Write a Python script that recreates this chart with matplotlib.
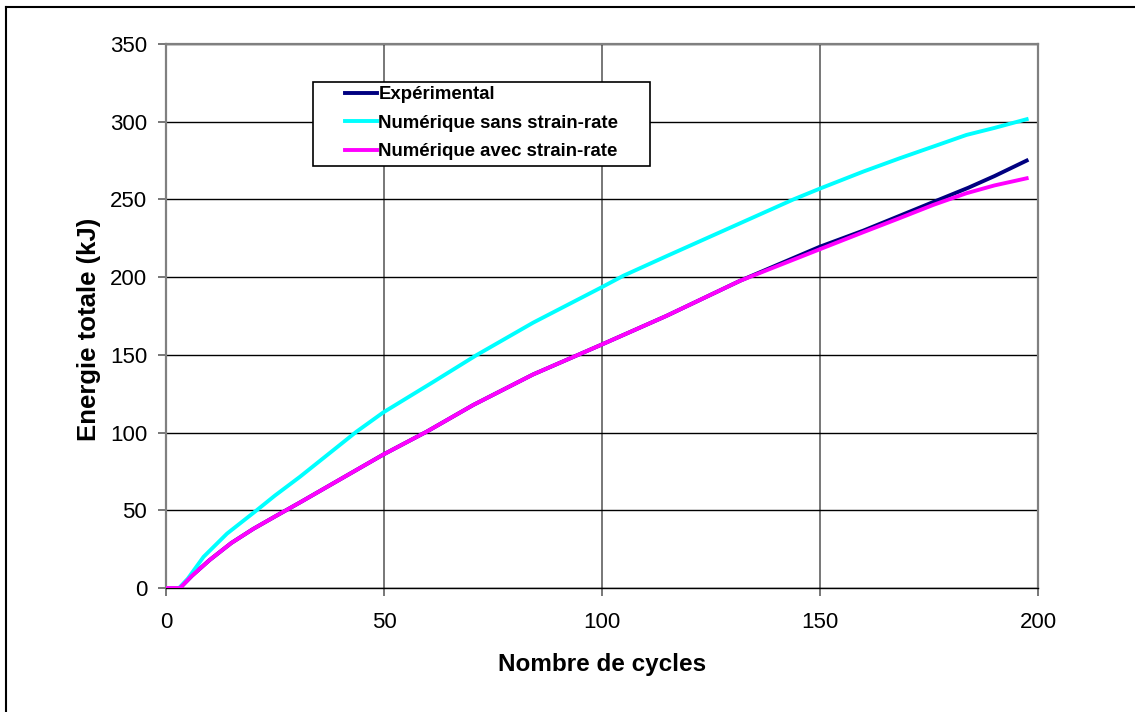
import numpy as np
import matplotlib
matplotlib.use("Agg")
import matplotlib.pyplot as plt
from matplotlib.lines import Line2D
from matplotlib.patches import Rectangle

plt.rcParams['font.family'] = ['Liberation Sans', 'DejaVu Sans']

# data
cyc_exp = [0, 3.2, 6, 10, 15, 20, 25, 30.7, 40, 49.8, 59.8, 70.5, 84.2, 100, 114.8, 131.7,
           150, 160, 168.3, 177, 184, 190, 197.4]
exp_vals = [0, 0, 8, 18, 29, 38, 46, 55, 70, 85.8, 100.6, 117.8, 137.4, 156.7, 175.1, 197.7,
            219.6, 230, 239.5, 249.5, 257.5, 265, 275]

cyc_sans = [0, 3, 5, 8.6, 14, 20.8, 25, 30.7, 43.7, 49.8, 61.3, 71.2, 84.2, 100, 104.9,
            114.8, 131.7, 143.9, 150, 160, 168.3, 177.5, 183.6, 190, 197.4]
sans_vals = [0, 0, 6, 20, 35, 50, 59.5, 71.5, 100.6, 112.9, 132.6, 149.8, 170.7, 193.6, 200.9,
             213.5, 234.7, 250, 257, 268, 276.5, 285.5, 291.5, 296, 301.6]

cyc_avec = [0, 3.2, 6, 10, 15, 20, 25, 30.7, 40, 49.8, 59.8, 70.5, 84.2, 100, 114.8, 131.7,
            150, 160, 168.3, 176, 183.6, 190, 197.4]
avec_vals = [0, 0, 8, 18, 29, 38, 46, 55, 70, 85.8, 100.6, 117.8, 137.4, 156.7, 175.1, 197.7,
             218, 229, 238, 246.5, 254, 259, 263.6]

labels = ["Expérimental", "Numérique sans strain-rate", "Numérique avec strain-rate"]
colors = ["#000080", "#00FFFF", "#FF00FF"]

W, H = 1135, 712
fig = plt.figure(figsize=(W / 100, H / 100), dpi=100)
ax = fig.add_axes([166 / W, 1 - 588 / H, (1038 - 166) / W, (588 - 44) / H])

ax.plot(cyc_exp, exp_vals, color=colors[0], lw=2.8, label=labels[0], zorder=3)
ax.plot(cyc_sans, sans_vals, color=colors[1], lw=2.8, label=labels[1], zorder=3)
ax.plot(cyc_avec, avec_vals, color=colors[2], lw=2.8, label=labels[2], zorder=4)

ax.set_xlim(0, 200)
ax.set_ylim(0, 350)
ax.set_xticks(np.arange(0, 201, 50))
ax.set_yticks(np.arange(0, 351, 50))
ax.yaxis.grid(True, color="black", lw=1.0)
ax.xaxis.grid(True, color="#606060", lw=1.2)
ax.set_axisbelow(True)
for s in ax.spines.values():
    s.set_color("#808080")
    s.set_linewidth(1.6)
ax.spines['bottom'].set_color("black")
ax.spines['bottom'].set_linewidth(1.0)
ax.tick_params(direction="out", length=5.5, width=1.2, color="#606060",
               labelsize=16)
ax.tick_params(axis="y", pad=8)
ax.tick_params(axis="x", pad=12)

ax.set_xlabel("Nombre de cycles", fontsize=17.5, fontweight="bold", labelpad=14)
ax.set_ylabel("Energie totale (kJ)", fontsize=18.5, fontweight="bold")
ax.yaxis.set_label_coords(-0.074, 0.476)

# legend frame (Excel style, wider than its text)
frame = Rectangle((313 / W, 1 - 166 / H), (650 - 313) / W, (166 - 82) / H,
                  transform=fig.transFigure, facecolor="white", edgecolor="black",
                  lw=1.2, zorder=4.5)
ax.add_patch(frame)
leg = ax.legend(loc="upper left", bbox_to_anchor=(345 / W, 1 - 86 / H),
                bbox_transform=fig.transFigure, frameon=False, borderaxespad=0,
                borderpad=0, handlelength=1.7, handletextpad=0.1,
                labelspacing=0.62, prop={"size": 13.4, "weight": "bold"})
leg.set_zorder(5)

# outer border (top and left only, rest is cropped)
fig.add_artist(Line2D([6 / W, 6 / W], [0, 1 - 7 / H], color="black", lw=1.5,
                      transform=fig.transFigure))
fig.add_artist(Line2D([6 / W, 1], [1 - 7 / H, 1 - 7 / H], color="black", lw=1.5,
                      transform=fig.transFigure))

fig.savefig("out.png", dpi=100)
